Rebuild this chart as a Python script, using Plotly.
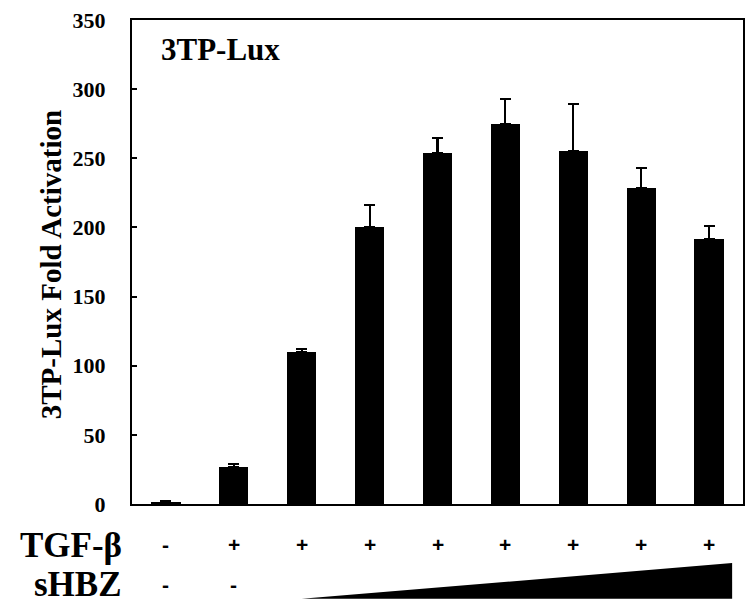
import plotly.graph_objects as go

categories = ["1", "2", "3", "4", "5", "6", "7", "8", "9"]
fold_activation = [1.5, 26.5, 109.7, 200.5, 253.5, 274.5, 255.0, 228.7, 191.4]
error_up = [0.5, 2.2, 2.2, 15.7, 10.9, 18.5, 34.3, 14.5, 9.6]
tgf_labels = ["-", "+", "+", "+", "+", "+", "+", "+", "+"]
shbz_labels = ["-", "-", "", "", "", "", "", "", ""]
y_ticks = [0, 50, 100, 150, 200, 250, 300, 350]

SERIF = "Liberation Serif, Times New Roman, serif"
SANS = "Liberation Sans, Arial, sans-serif"

fig = go.Figure()
fig.add_trace(go.Bar(
    x=list(range(len(categories))),
    y=fold_activation,
    width=0.43,
    marker=dict(color="black", line=dict(color="black", width=0)),
    error_y=dict(type="data", symmetric=False, array=error_up,
                 arrayminus=[0] * len(error_up),
                 color="black", thickness=2.2, width=5.5),
    showlegend=False,
))

annotations = []
for i, lab in enumerate(tgf_labels):
    annotations.append(dict(x=i, xref="x", y=-0.083, yref="paper", text=f"<b>{lab}</b>",
                            showarrow=False, xanchor="center", yanchor="middle",
                            font=dict(family=SANS, size=21, color="black")))
for i, lab in enumerate(shbz_labels):
    if lab:
        annotations.append(dict(x=i, xref="x", y=-0.166, yref="paper", text=f"<b>{lab}</b>",
                                showarrow=False, xanchor="center", yanchor="middle",
                                font=dict(family=SANS, size=21, color="black")))
annotations += [
    dict(x=-0.013, xref="paper", y=-0.085, yref="paper", text="<b>TGF-β</b>",
         showarrow=False, xanchor="right", yanchor="middle",
         font=dict(family=SERIF, size=35, color="black")),
    dict(x=-0.013, xref="paper", y=-0.167, yref="paper", text="<b>sHBZ</b>",
         showarrow=False, xanchor="right", yanchor="middle",
         font=dict(family=SERIF, size=35, color="black")),
    dict(x=0.045, xref="paper", y=0.94, yref="paper", text="<b>3TP-Lux</b>",
         showarrow=False, xanchor="left", yanchor="middle",
         font=dict(family=SERIF, size=31, color="black")),
    dict(x=-0.132, xref="paper", y=0.494, yref="paper", text="<b>3TP-Lux Fold Activation</b>",
         showarrow=False, xanchor="center", yanchor="middle", textangle=-90,
         font=dict(family=SERIF, size=29, color="black")),
]

fig.update_layout(
    width=752, height=609,
    margin=dict(l=132, r=7, t=20, b=105),
    paper_bgcolor="white", plot_bgcolor="white",
    bargap=0,
    xaxis=dict(range=[-0.5, 8.5], showticklabels=False, ticks="", showgrid=False,
               zeroline=False, showline=True, linecolor="black", linewidth=2, mirror=True),
    yaxis=dict(range=[0, 350], tickvals=y_ticks, ticktext=[f"<b>{v}</b>" for v in y_ticks],
               ticks="inside", ticklen=5, tickwidth=1.5, tickcolor="black",
               ticklabelstandoff=20,
               tickfont=dict(family=SERIF, size=22, color="black"),
               showgrid=False, zeroline=False, showline=True, linecolor="black",
               linewidth=2, mirror=True),
    annotations=annotations,
    shapes=[dict(type="path", xref="x", yref="paper",
                 path="M 2,-0.196 L 8.34,-0.122 L 8.34,-0.196 Z",
                 fillcolor="black", line=dict(color="black", width=0))],
)

fig.write_html("out.html", config={"displayModeBar": False},
               post_script="document.body.style.margin='0px';")
